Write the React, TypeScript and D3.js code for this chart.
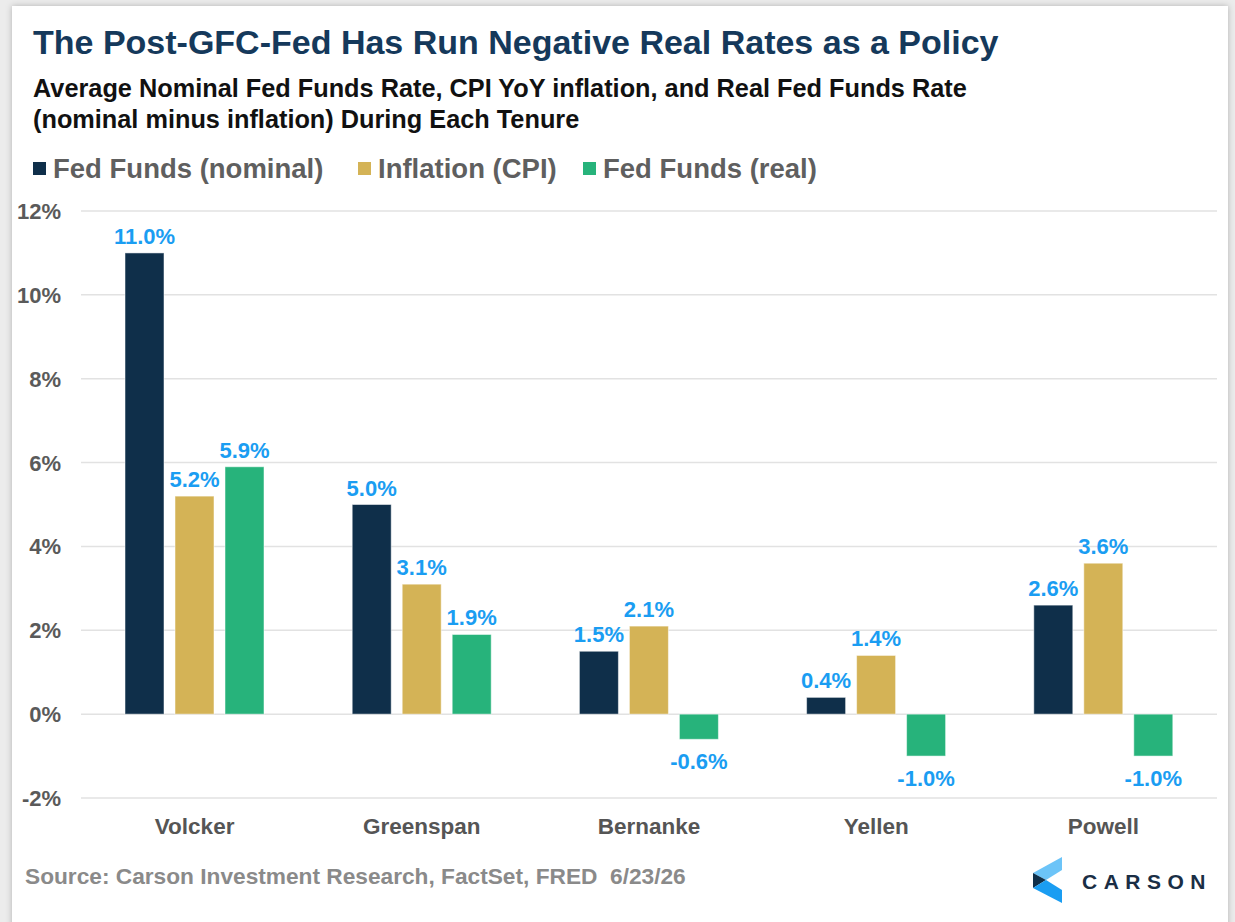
import React from "react";
import * as d3 from "d3";

const chairs = ["Volcker", "Greenspan", "Bernanke", "Yellen", "Powell"];
const seriesNames = ["Fed Funds (nominal)", "Inflation (CPI)", "Fed Funds (real)"];
const seriesColors = ["#0f2f4a", "#d4b356", "#27b37b"];
const nominal = [11.0, 5.0, 1.5, 0.4, 2.6];
const inflation = [5.2, 3.1, 2.1, 1.4, 3.6];
const real = [5.9, 1.9, -0.6, -1.0, -1.0];
const yTicks = [-2, 0, 2, 4, 6, 8, 10, 12];

const W = 1235, H = 922;
const FONT = "'Liberation Sans', Arial, sans-serif";

export default function App() {
  const values = [nominal, inflation, real];

  const x = d3.scaleBand().domain(chairs).range([81, 1217]);
  const y = d3.scaleLinear().domain([-2, 12]).range([798, 211]);
  // bars sit in the middle 139px of each 227px band
  const inner = d3.scaleBand()
    .domain(seriesNames)
    .range([44, 183])
    .paddingInner(0.22)
    .paddingOuter(0);

  const legendX = [33, 358, 583];

  return (
    <div style={{ position: "absolute", left: 0, top: 0 }}>
      <svg width={W} height={H} style={{ display: "block", fontFamily: FONT }}>
        <defs>
          <filter id="shadow" x="-5%" y="-5%" width="110%" height="110%">
            <feDropShadow dx="0" dy="0" stdDeviation="3" floodColor="#000" floodOpacity="0.25" />
          </filter>
        </defs>
        <rect x={0} y={0} width={W} height={H} fill="#ececec" />
        <rect x={12} y={6} width={1216} height={940} fill="#fff" filter="url(#shadow)" />

        <text x={33} y={54} fontSize={34} fontWeight="bold" fill="#15395b">
          The Post-GFC-Fed Has Run Negative Real Rates as a Policy
        </text>
        <text x={33} y={97} fontSize={25.3} fontWeight="bold" fill="#111">
          Average Nominal Fed Funds Rate, CPI YoY inflation, and Real Fed Funds Rate
        </text>
        <text x={33} y={128} fontSize={25.3} fontWeight="bold" fill="#111">
          (nominal minus inflation) During Each Tenure
        </text>

        {seriesNames.map((s, i) => (
          <g key={s}>
            <rect x={legendX[i]} y={162} width={13} height={13} fill={seriesColors[i]} />
            <text x={legendX[i] + 20} y={178} fontSize={27.5} fontWeight="bold" fill="#5f5f5f">
              {s}
            </text>
          </g>
        ))}

        {yTicks.map((t) => (
          <g key={t}>
            <line x1={81} x2={1217} y1={y(t)} y2={y(t)} stroke="#e2e2e2" strokeWidth={1.5} />
            <text x={61} y={y(t) + 8} textAnchor="end" fontSize={22} fontWeight="bold" fill="#5a5a5a">
              {t}%
            </text>
          </g>
        ))}

        {chairs.map((c, ci) => (
          <g key={c} transform={`translate(${x(c)},0)`}>
            {seriesNames.map((s, si) => {
              const v = values[si][ci];
              const bx = inner(s)!;
              const bw = inner.bandwidth();
              const y0 = y(Math.max(0, v));
              const y1 = y(Math.min(0, v));
              return (
                <g key={s}>
                  <rect x={bx} y={y0} width={bw} height={y1 - y0} fill={seriesColors[si]}
                    stroke="#ffffff" strokeOpacity={0.5} strokeWidth={1} />
                  <text x={bx + bw / 2} y={v >= 0 ? y0 - 9 : y1 + 30} textAnchor="middle"
                    fontSize={22} fontWeight="bold" fill="#1a9df2">
                    {v.toFixed(1)}%
                  </text>
                </g>
              );
            })}
            <text x={x.bandwidth() / 2} y={834} textAnchor="middle" fontSize={22.5} fontWeight="bold" fill="#555">
              {c}
            </text>
          </g>
        ))}

        <text x={25} y={884} fontSize={22.7} fontWeight="bold" fill="#8a8a8a">
          {"Source: Carson Investment Research, FactSet, FRED\u00a0 6/23/26"}
        </text>

        <g>
          <polygon points="1033,873 1062,857 1062,870 1046,880" fill="#6cc4f8" />
          <polygon points="1033,873 1046,880 1033,888" fill="#0f2f4a" />
          <polygon points="1033,888 1046,880 1062,890 1062,903" fill="#1a9df2" />
          <text x={1082} y={889} fontSize={21} fontWeight="bold" letterSpacing={6.5} fill="#1a2e45">
            CARSON
          </text>
        </g>
      </svg>
    </div>
  );
}
